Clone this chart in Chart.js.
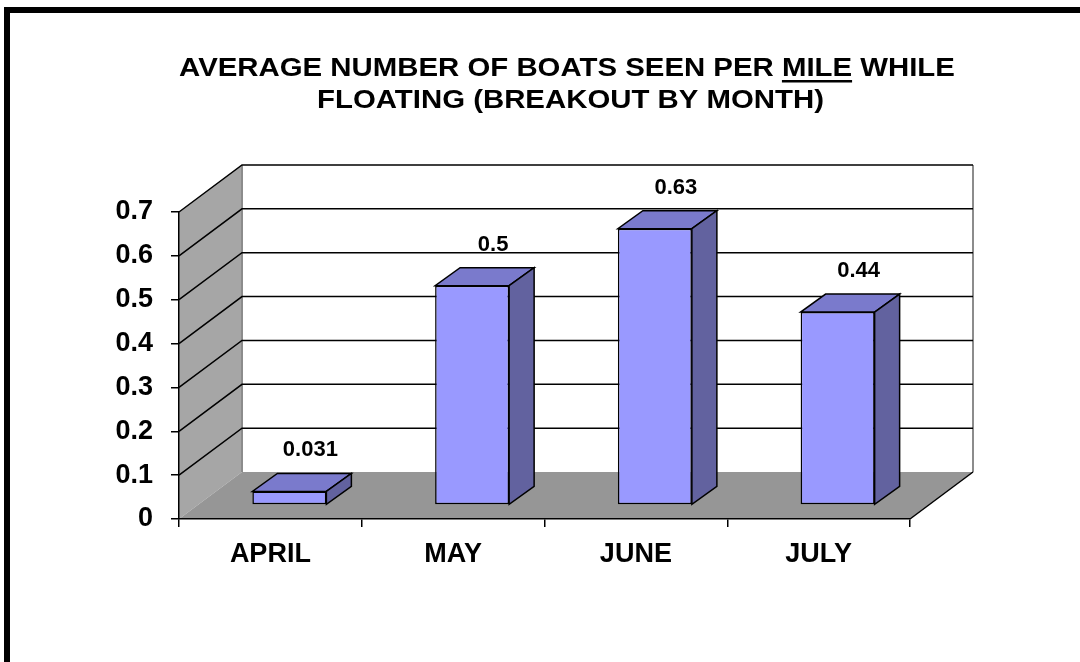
<!DOCTYPE html>
<html>
<head>
<meta charset="utf-8">
<script src="https://cdn.jsdelivr.net/npm/chart.js@4"></script>
<style>
  body { margin: 0; background: #fff; }
  canvas { display: block; }
</style>
</head>
<body>
<canvas id="myChart" width="1080" height="662"></canvas>
<script>
// data
const months = ['APRIL', 'MAY', 'JUNE', 'JULY'];
const boatsPerMile = [0.031, 0.5, 0.63, 0.44];
const valueLabels = ['0.031', '0.5', '0.63', '0.44'];
const yMax = 0.7;
const yStep = 0.1;
const titleLines = ['AVERAGE NUMBER OF BOATS SEEN PER MILE WHILE', 'FLOATING (BREAKOUT BY MONTH)'];
const underlinedWord = 'MILE';

// 3d look
const wallDX = 63, wallDY = -47;     // depth of the walls / floor
const barShiftX = 19, barShiftY = -14; // bars sit half way back on the floor
const barDX = 25, barDY = -18;       // depth of a bar

const FONT = "'Liberation Sans', Arial, Helvetica, sans-serif";
Chart.defaults.font.family = FONT;
Chart.defaults.color = '#000';

function poly(ctx, pts, fill, stroke, lw) {
  ctx.beginPath();
  ctx.moveTo(pts[0][0], pts[0][1]);
  for (let i = 1; i < pts.length; i++) ctx.lineTo(pts[i][0], pts[i][1]);
  ctx.closePath();
  if (fill) { ctx.fillStyle = fill; ctx.fill(); }
  if (stroke) { ctx.strokeStyle = stroke; ctx.lineWidth = lw || 1.5; ctx.stroke(); }
}

const box3d = {
  id: 'box3d',
  beforeDraw(chart) {
    const ctx = chart.ctx;
    const ca = chart.chartArea;
    const ys = chart.scales.y;
    ctx.save();
    ctx.fillStyle = '#fff';
    ctx.fillRect(0, 0, chart.width, chart.height);

    // frame, cut off at right and bottom
    ctx.fillStyle = '#000';
    ctx.fillRect(4, 7, chart.width - 4, 6);
    ctx.fillRect(4, 7, 6, chart.height - 7);

    // title (the original text is a bit stretched sideways)
    ctx.save();
    const cx = 567;
    ctx.translate(cx, 0);
    ctx.scale(1.175, 1);
    ctx.font = 'bold 25px ' + FONT;
    ctx.textAlign = 'center';
    ctx.textBaseline = 'alphabetic';
    ctx.fillText(titleLines[0], 0, 76);
    ctx.fillText(titleLines[1], 3, 108);
    const full = ctx.measureText(titleLines[0]).width;
    const idx = titleLines[0].indexOf(underlinedWord);
    const pre = ctx.measureText(titleLines[0].slice(0, idx)).width;
    const w = ctx.measureText(underlinedWord).width;
    ctx.fillRect(-full / 2 + pre, 80, w, 2.5);
    ctx.restore();

    const top = ys.getPixelForValue(yMax);
    const bot = ys.getPixelForValue(0);
    const L = ca.left, R = ca.right;

    // side wall
    poly(ctx, [[L, top], [L + wallDX, top + wallDY], [L + wallDX, bot + wallDY], [L, bot]], '#a6a6a6');
    // back wall
    ctx.fillStyle = '#fff';
    ctx.fillRect(L + wallDX, top + wallDY, R - L, bot - top);
    ctx.strokeStyle = '#8c8c8c';
    ctx.lineWidth = 2;
    ctx.beginPath();
    ctx.moveTo(L + wallDX, top + wallDY); ctx.lineTo(L + wallDX, bot + wallDY);
    ctx.moveTo(R + wallDX, top + wallDY); ctx.lineTo(R + wallDX, bot + wallDY);
    ctx.stroke();
    // floor
    poly(ctx, [[L, bot], [R, bot], [R + wallDX, bot + wallDY], [L + wallDX, bot + wallDY]], '#969696');
    ctx.strokeStyle = '#000';
    ctx.lineWidth = 1.5;
    ctx.beginPath();
    ctx.moveTo(R, bot); ctx.lineTo(R + wallDX, bot + wallDY);
    ctx.stroke();

    // gridlines on side and back walls
    ys.ticks.forEach(t => {
      if (t.value <= 0) return;
      const y = ys.getPixelForValue(t.value);
      ctx.beginPath();
      ctx.moveTo(L, y);
      ctx.lineTo(L + wallDX, y + wallDY);
      ctx.lineTo(R + wallDX, y + wallDY);
      ctx.stroke();
    });
    ctx.restore();
  },
  beforeDatasetsDraw(chart) {
    chart.ctx.save();
    chart.ctx.translate(barShiftX, barShiftY);
  },
  afterDatasetsDraw(chart) {
    const ctx = chart.ctx;
    const meta = chart.getDatasetMeta(0);
    meta.data.forEach((bar, i) => {
      const p = bar.getProps(['x', 'y', 'base', 'width'], true);
      const x0 = p.x - p.width / 2, x1 = p.x + p.width / 2;
      const t = p.y, b = p.base;
      poly(ctx, [[x0, t], [x1, t], [x1 + barDX, t + barDY], [x0 + barDX, t + barDY]], '#7a7acc', '#000', 1.5);
      poly(ctx, [[x1, t], [x1 + barDX, t + barDY], [x1 + barDX, b + barDY], [x1, b]], '#62629f', '#000', 1.5);
    });
    ctx.restore();

    // value labels above the bars
    ctx.save();
    ctx.font = 'bold 22px ' + FONT;
    ctx.fillStyle = '#000';
    ctx.textAlign = 'center';
    ctx.textBaseline = 'middle';
    meta.data.forEach((bar, i) => {
      const p = bar.getProps(['x', 'y'], true);
      ctx.fillText(valueLabels[i], p.x + 40, p.y - 55);
    });
    ctx.restore();
  }
};

const ctx = document.getElementById('myChart');

var grafico = new Chart(ctx, {
  type: 'bar',
  data: {
    labels: months,
    datasets: [{
      data: boatsPerMile,
      backgroundColor: '#9999ff',
      borderColor: '#000',
      borderWidth: 1.5,
      borderSkipped: false,
      barPercentage: 0.405,
      categoryPercentage: 1
    }]
  },
  options: {
    responsive: false,
    animation: false,
    devicePixelRatio: 1,
    layout: { padding: { left: 0, right: 170, top: 212, bottom: 0 } },
    plugins: {
      legend: { display: false },
      title: { display: false },
      tooltip: { enabled: false }
    },
    scales: {
      x: {
        afterFit: s => { s.height = 143; },
        grid: { drawOnChartArea: false, color: '#000', lineWidth: 1.5, tickLength: 8, offset: true },
        border: { color: '#000', width: 1.5 },
        ticks: { font: { size: 27, weight: 'bold' }, padding: 11, color: '#000' }
      },
      y: {
        min: 0,
        max: yMax,
        afterFit: s => { s.width = 179; },
        grid: { drawOnChartArea: false, color: '#000', lineWidth: 1.5, tickLength: 8 },
        border: { color: '#000', width: 1.5 },
        ticks: { stepSize: yStep, font: { size: 27, weight: 'bold' }, padding: 18, color: '#000' }
      }
    }
  },
  plugins: [box3d]
});
</script>
</body>
</html>
